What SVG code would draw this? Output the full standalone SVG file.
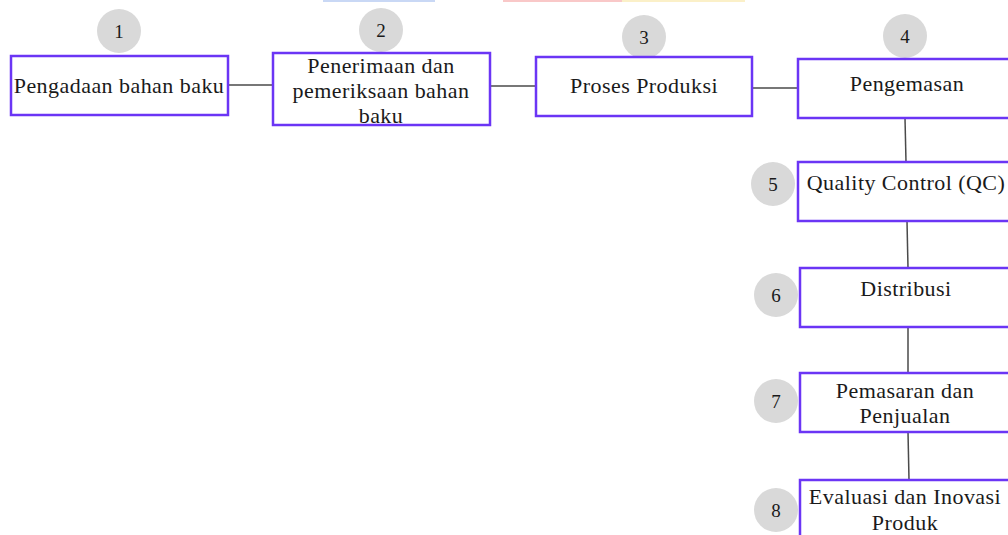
<svg xmlns="http://www.w3.org/2000/svg" width="1008" height="535" viewBox="0 0 1008 535">
<style>
.box{fill:#fff;stroke:#6b35f5;stroke-width:2.5}
.num{fill:#d9d9d9}
.lbl{font-family:"Liberation Serif","Times New Roman",serif;font-size:22px;letter-spacing:0.45px;fill:#1a1a1a;text-anchor:middle}
.nt{font-family:"Liberation Serif","Times New Roman",serif;font-size:19px;fill:#1a1a1a;text-anchor:middle}
.con{stroke:#4a4a4a;stroke-width:1.5;fill:none}
</style>
<rect width="1008" height="535" fill="#fff"/>
<rect x="323" y="0" width="112" height="2" fill="#c9d8f5"/>
<rect x="503" y="0" width="119" height="2" fill="#f9c8c8"/>
<rect x="622" y="0" width="123" height="2" fill="#fbf0c8"/>
<g id="connectors">
<line class="con" x1="228" y1="85" x2="273" y2="85"/>
<line class="con" x1="490" y1="86" x2="536" y2="86"/>
<line class="con" x1="752" y1="88" x2="798" y2="88"/>
<line class="con" x1="905" y1="118" x2="906" y2="162"/>
<line class="con" x1="907" y1="221" x2="908" y2="268"/>
<line class="con" x1="908" y1="327" x2="908" y2="373"/>
<line class="con" x1="908" y1="432" x2="909" y2="480"/>
</g>
<g id="n1">
<circle class="num" cx="119" cy="31" r="22"/>
<text class="nt" x="119" y="38">1</text>
<rect class="box" x="11" y="56" width="217" height="59"/>
<text class="lbl" x="119" y="93">Pengadaan bahan baku</text>
</g>
<g id="n2">
<circle class="num" cx="381" cy="30" r="22"/>
<text class="nt" x="381" y="37">2</text>
<rect class="box" x="273" y="53" width="217" height="72"/>
<text class="lbl" x="381" y="73">Penerimaan dan</text>
<text class="lbl" x="381" y="98">pemeriksaan bahan</text>
<text class="lbl" x="381" y="123">baku</text>
</g>
<g id="n3">
<circle class="num" cx="644" cy="37" r="22"/>
<text class="nt" x="644" y="44">3</text>
<rect class="box" x="536" y="57" width="216" height="59"/>
<text class="lbl" x="644" y="93">Proses Produksi</text>
</g>
<g id="n4">
<circle class="num" cx="905" cy="36" r="22"/>
<text class="nt" x="905" y="43">4</text>
<rect class="box" x="798" y="59" width="214" height="59"/>
<text class="lbl" x="907" y="91">Pengemasan</text>
</g>
<g id="n5">
<circle class="num" cx="773" cy="184" r="22"/>
<text class="nt" x="773" y="191">5</text>
<rect class="box" x="798" y="162" width="214" height="59"/>
<text class="lbl" x="906" y="190">Quality Control (QC)</text>
</g>
<g id="n6">
<circle class="num" cx="776" cy="295" r="22"/>
<text class="nt" x="776" y="302">6</text>
<rect class="box" x="800" y="268" width="212" height="59"/>
<text class="lbl" x="906" y="296">Distribusi</text>
</g>
<g id="n7">
<circle class="num" cx="776" cy="401" r="22"/>
<text class="nt" x="776" y="408">7</text>
<rect class="box" x="800" y="373" width="212" height="59"/>
<text class="lbl" x="905" y="398">Pemasaran dan</text>
<text class="lbl" x="905" y="423">Penjualan</text>
</g>
<g id="n8">
<circle class="num" cx="776" cy="510" r="22"/>
<text class="nt" x="776" y="517">8</text>
<rect class="box" x="800" y="480" width="212" height="70"/>
<text class="lbl" x="905" y="504">Evaluasi dan Inovasi</text>
<text class="lbl" x="905" y="530">Produk</text>
</g>
</svg>
